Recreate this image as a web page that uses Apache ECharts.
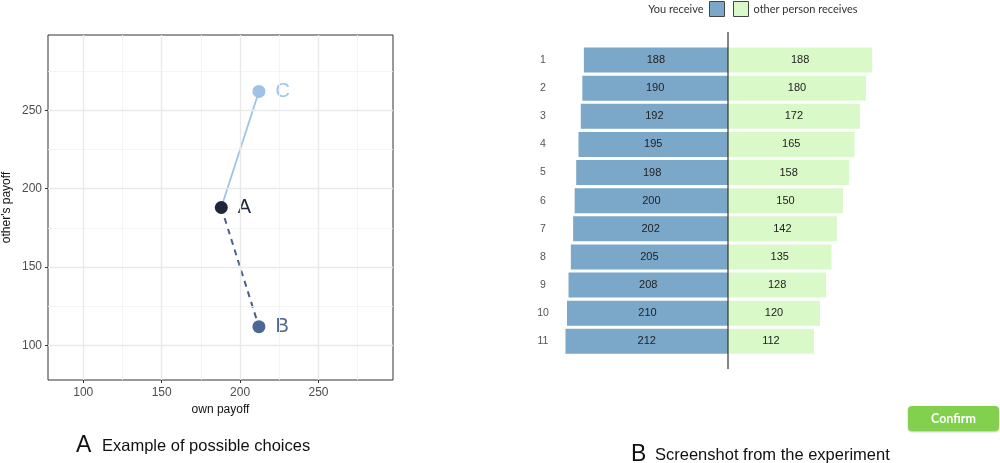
<!DOCTYPE html>
<html>
<head>
<meta charset="utf-8">
<script src="https://cdn.jsdelivr.net/npm/echarts@6/dist/echarts.min.js"></script>
<style>
html,body{margin:0;padding:0;background:#fff;}
#c{width:1000px;height:463px;}
</style>
</head>
<body>
<div id="c"></div>
<script>
// ---- Panel A data ----
const pointNames = ['A', 'B', 'C'];
const ownPayoff = [188, 212, 212];
const othersPayoff = [188, 112, 262];
const majorTicks = [100, 150, 200, 250];
const minorTicks = [125, 175, 225, 275];

// ---- Panel B data ----
const rowLabels = ['1', '2', '3', '4', '5', '6', '7', '8', '9', '10', '11'];
const youReceive = [188, 190, 192, 195, 198, 200, 202, 205, 208, 210, 212];
const otherReceives = [188, 180, 172, 165, 158, 150, 142, 135, 128, 120, 112];

const pointColors = ['#1e2638', '#4b6792', '#9fc3e6'];
const blue = '#7ba7c9';
const green = '#daf9c8';

const chart = echarts.init(document.getElementById('c'), null, {renderer: 'canvas'});

const pts = pointNames.map((n, i) => ({
  name: n, value: [ownPayoff[i], othersPayoff[i]],
  itemStyle: {color: pointColors[i], opacity: 1},
  label: {color: pointColors[i]}
}));

function gridLines(vals) {
  return vals.map(v => ({xAxis: v})).concat(vals.map(v => ({yAxis: v})));
}

const option = {
  animation: false,
  textStyle: {fontFamily: 'Liberation Sans'},
  grid: [
    {left: 48, top: 35, width: 345, height: 345, show: true, borderColor: '#333', borderWidth: 1, backgroundColor: 'transparent'},
    {left: 544, top: 46, width: 368, height: 309.4}
  ],
  xAxis: [
    {
      gridIndex: 0, type: 'value', min: 77.5, max: 297.5,
      name: 'own payoff', nameLocation: 'middle', nameGap: 24,
      nameTextStyle: {color: '#111', fontSize: 12},
      axisLine: {show: false},
      axisTick: {show: true, customValues: majorTicks, length: 3, lineStyle: {color: '#333'}},
      axisLabel: {customValues: majorTicks, color: '#4d4d4d', fontSize: 12, margin: 7},
      splitLine: {show: false}
    },
    {
      gridIndex: 1, type: 'value', min: -240, max: 240, show: false
    }
  ],
  yAxis: [
    {
      gridIndex: 0, type: 'value', min: 78, max: 298,
      name: "other's payoff", nameLocation: 'middle', nameGap: 35, nameRotate: 90,
      nameTextStyle: {color: '#111', fontSize: 12},
      axisLine: {show: false},
      axisTick: {show: true, customValues: majorTicks, length: 3, lineStyle: {color: '#333'}},
      axisLabel: {customValues: majorTicks, color: '#4d4d4d', fontSize: 12, margin: 6},
      splitLine: {show: false}
    },
    {
      gridIndex: 1, type: 'category', data: rowLabels, inverse: true,
      axisLine: {show: false}, axisTick: {show: false}, splitLine: {show: false},
      axisLabel: {color: '#555', fontSize: 10.5, align: 'center', margin: 1}
    }
  ],
  legend: [
    {
      data: ['You receive'], align: 'right', right: 275, top: 1, padding: 0,
      itemWidth: 15, itemHeight: 15, icon: 'rect',
      textStyle: {fontFamily: 'Lato', fontSize: 11, color: '#333', padding: [0, 1, 0, 0]},
      itemStyle: {borderColor: '#444', borderWidth: 1}
    },
    {
      data: ['other person receives'], align: 'left', left: 733, top: 1, padding: 0,
      itemWidth: 15, itemHeight: 15, icon: 'rect',
      textStyle: {fontFamily: 'Lato', fontSize: 11, color: '#333'},
      itemStyle: {borderColor: '#444', borderWidth: 1}
    }
  ],
  series: [
    {
      type: 'line', xAxisIndex: 0, yAxisIndex: 0, data: [], silent: true, z: 0,
      markLine: {silent: true, symbol: 'none', label: {show: false},
        lineStyle: {color: '#f3f3f3', width: 0.9, type: 'solid'}, data: gridLines(minorTicks)}
    },
    {
      type: 'line', xAxisIndex: 0, yAxisIndex: 0, data: [], silent: true, z: 0,
      markLine: {silent: true, symbol: 'none', label: {show: false},
        lineStyle: {color: '#e9e9e9', width: 1.4, type: 'solid'}, data: gridLines(majorTicks)}
    },
    {
      type: 'line', xAxisIndex: 0, yAxisIndex: 0, symbol: 'none', z: 2,
      lineStyle: {color: pointColors[2], width: 1.8},
      data: [[ownPayoff[0], othersPayoff[0]], [ownPayoff[2], othersPayoff[2]]]
    },
    {
      type: 'line', xAxisIndex: 0, yAxisIndex: 0, symbol: 'none', z: 2,
      lineStyle: {color: '#4a6189', width: 2, type: [6, 5]},
      data: [[ownPayoff[0], othersPayoff[0]], [ownPayoff[1], othersPayoff[1]]]
    },
    {
      type: 'scatter', xAxisIndex: 0, yAxisIndex: 0, symbolSize: 13, z: 3,
      itemStyle: {opacity: 1},
      label: {show: true, position: 'right', distance: 10, fontSize: 20, formatter: '{b}', fontFamily: 'Liberation Sans'},
      data: pts
    },
    {
      name: 'You receive', type: 'bar', xAxisIndex: 1, yAxisIndex: 1,
      barWidth: 25, barGap: '-100%', itemStyle: {color: blue},
      label: {show: true, position: 'inside', color: '#222', fontSize: 11,
        formatter: p => Math.abs(p.value)},
      data: youReceive.map(v => -v)
    },
    {
      name: 'other person receives', type: 'bar', xAxisIndex: 1, yAxisIndex: 1,
      barWidth: 25, barGap: '-100%', itemStyle: {color: green},
      label: {show: true, position: 'inside', color: '#222', fontSize: 11},
      data: otherReceives
    }
  ]
};
chart.setOption(option);

// vertical divider at zero on panel B
const x0 = chart.convertToPixel({xAxisIndex: 1}, 0);
chart.setOption({
  graphic: [
    {type: 'line', shape: {x1: x0, y1: 32, x2: x0, y2: 369}, style: {stroke: '#333', lineWidth: 1.2}, z: 10},
    {type: 'group', left: 908, top: 406, children: [
      {type: 'rect', shape: {x: 0, y: 0, width: 91, height: 25, r: 4},
        style: {fill: '#82d04e', shadowBlur: 2, shadowColor: 'rgba(0,0,0,0.25)', shadowOffsetY: 1}},
      {type: 'text', x: 45.5, y: 12.5, style: {text: 'Confirm', fill: '#fff', font: 'bold 12.5px Lato', align: 'center', verticalAlign: 'middle'}}
    ]},
    {type: 'text', left: 76, top: 434, style: {text: 'A', font: '23px "Liberation Sans"', fill: '#111'}},
    {type: 'text', left: 102, top: 438, style: {text: 'Example of possible choices', font: '16.5px "Liberation Sans"', fill: '#111'}},
    {type: 'text', left: 631, top: 443, style: {text: 'B', font: '23px "Liberation Sans"', fill: '#111'}},
    {type: 'text', left: 655, top: 447, style: {text: 'Screenshot from the experiment', font: '16.5px "Liberation Sans"', fill: '#111'}}
  ]
});
</script>
</body>
</html>
